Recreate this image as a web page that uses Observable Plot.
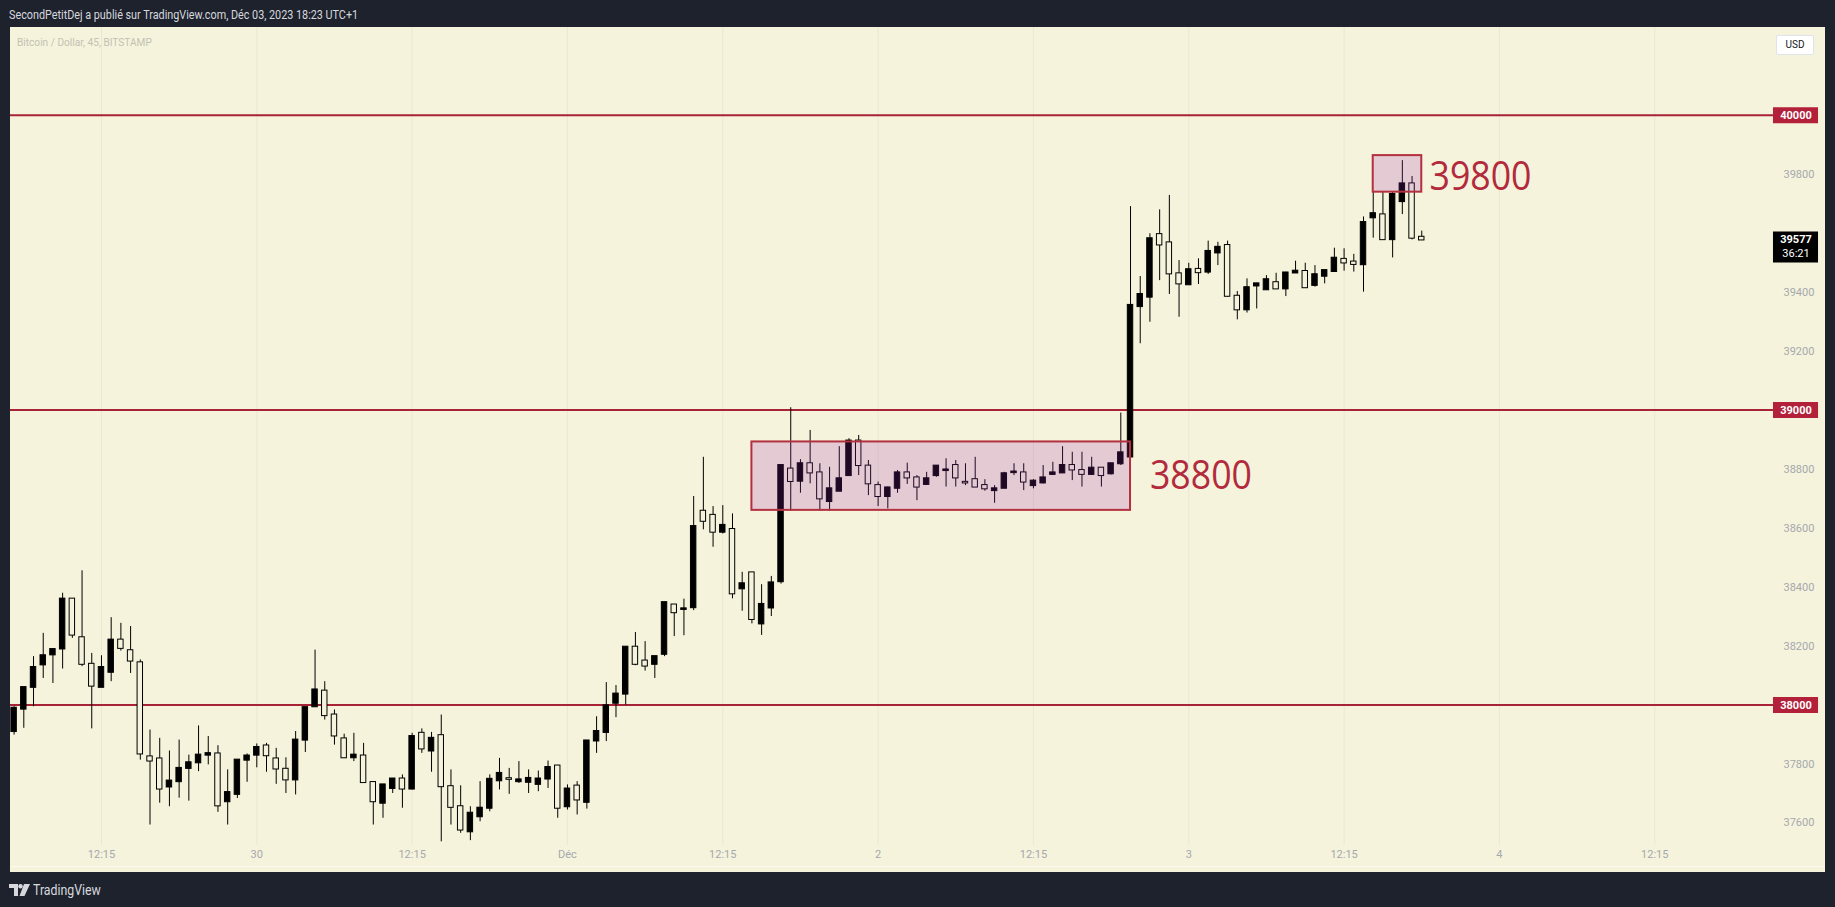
<!DOCTYPE html>
<html>
<head>
<meta charset="utf-8">
<script src="https://cdn.jsdelivr.net/npm/d3@7"></script>
<script src="https://cdn.jsdelivr.net/npm/@observablehq/plot@0.6"></script>
<style>
  html, body { margin: 0; padding: 0; }
  body { background: #1e222d; width: 1835px; height: 907px; overflow: hidden; position: relative; font-family: Roboto, "Liberation Sans", sans-serif; }
  #title { position: absolute; left: 9px; top: 8px; color: #d6d8de; font-size: 12px; line-height: 14px; white-space: nowrap; transform-origin: 0 0; transform: scaleX(0.9); }
  #pane { position: absolute; left: 10px; top: 27px; width: 1815px; height: 845px; background: #f5f3dc; }
  #chart { position: absolute; left: 10px; top: 27px; }
  #sym { position: absolute; left: 17px; top: 36px; color: #c3c2b2; font-size: 11px; line-height: 13px; white-space: nowrap; transform-origin: 0 0; transform: scaleX(0.92); }
  #usd { position: absolute; left: 1776px; top: 35px; width: 36px; height: 18px; background: #ffffff; border: 1px solid #e0e3eb; border-radius: 2px; color: #131722; font-size: 10px; line-height: 18px; text-align: center; }
  #footer { position: absolute; left: 9px; top: 882px; height: 16px; display: flex; align-items: center; color: #d6d8de; }
  #footer span { font-size: 14px; margin-left: 3px; display: inline-block; transform-origin: 0 50%; transform: scaleX(0.88); }
  #bline { position: absolute; left: 10px; top: 866px; width: 1815px; height: 1px; background: #fbfaf0; }
</style>
</head>
<body>
<div id="title">SecondPetitDej a publié sur TradingView.com, Déc 03, 2023 18:23 UTC+1</div>
<div id="pane"></div>
<div id="bline"></div>
<div id="chart"></div>
<div id="sym">Bitcoin / Dollar, 45, BITSTAMP</div>
<div id="usd">USD</div>
<div id="footer">
  <svg width="21" height="12" viewBox="0 0 21 12"><path d="M0 0h9v12h-4v-8h-5z" fill="#d6d8de"/><circle cx="11.5" cy="2.2" r="2.2" fill="#d6d8de"/><path d="M15 0h6l-5.5 12h-5z" fill="#d6d8de"/></svg>
  <span>TradingView</span>
</div>
<script>
// ---- Data: BTC/USD 45-minute candles (Bitstamp) ----
const open = [37910,37986,38060,38136,38170,38190,38359,38228,38138,38060,38111,38220,38184,38143,37824,37817,37722,37740,37785,37804,
  37830,37834,37672,37697,37813,37830,37861,37817,37782,37746,37881,37994,38047,37966,37885,37821,37827,37737,37667,37717,
  37749,37715,37904,37844,37896,37723,37655,37570,37621,37650,37743,37750,37740,37738,37731,37749,37793,37655,37725,37670,
  37878,37907,38006,38037,38196,38149,38138,38172,38339,38324,38330,38657,38643,38586,38595,38394,38448,38275,38329,38418,
  38800,38759,38818,38787,38690,38725,38778,38895,38810,38744,38707,38735,38787,38770,38748,38778,38795,38812,38755,38764,
  38744,38727,38735,38788,38787,38744,38753,38782,38787,38812,38795,38782,38803,38784,38818,38841,39351,39383,39595,39567,
  39462,39425,39477,39468,39533,39558,39386,39340,39421,39408,39432,39411,39465,39470,39423,39454,39470,39511,39502,39493,
  39652,39662,39578,39707,39767,39586];
const high = [37994,38059,38164,38243,38188,38379,38359,38455,38175,38167,38296,38277,38266,38153,37915,37887,37844,37881,37830,37929,
  37893,37862,37780,37813,37834,37868,37870,37853,37821,37910,37991,38186,38079,37983,37901,37904,37870,37737,37729,37749,
  37763,37904,37919,37907,37966,37780,37726,37655,37740,37763,37819,37785,37808,37780,37776,37810,37793,37729,37740,37878,
  37960,38076,38066,38196,38246,38215,38164,38347,38339,38359,38707,38840,38673,38676,38648,38450,38448,38408,38436,38812,
  39008,38832,38931,38818,38806,38876,38903,38914,38829,38756,38739,38795,38820,38778,38789,38810,38835,38829,38818,38840,
  38764,38744,38789,38818,38818,38764,38812,38823,38876,38857,38857,38840,38803,38818,38990,39690,39453,39598,39679,39728,
  39507,39498,39513,39573,39569,39573,39402,39445,39430,39456,39464,39465,39505,39498,39490,39473,39549,39547,39528,39655,
  39739,39739,39739,39846,39792,39607];
const low = [37898,37921,37994,38090,38073,38122,38226,38130,37919,38060,38079,38183,38107,37813,37593,37667,37655,37684,37674,37774,
  37797,37636,37593,37683,37738,37787,37772,37731,37700,37695,37839,37994,37949,37864,37819,37808,37737,37593,37616,37700,
  37650,37712,37836,37772,37536,37593,37565,37540,37604,37638,37712,37697,37734,37700,37706,37717,37616,37644,37627,37647,
  37836,37876,37957,38000,38133,38115,38090,38164,38232,38235,38320,38594,38535,38580,38360,38318,38275,38236,38300,38410,
  38657,38718,38750,38657,38657,38725,38778,38778,38710,38673,38665,38718,38748,38693,38746,38772,38739,38739,38744,38739,
  38725,38684,38735,38778,38727,38733,38750,38778,38787,38761,38739,38778,38739,38780,38812,38835,39225,39298,39439,39392,
  39315,39423,39426,39460,39490,39383,39306,39329,39343,39406,39411,39385,39465,39415,39417,39428,39470,39471,39468,39400,
  39583,39578,39516,39663,39577,39577];
const close = [37989,38059,38127,38167,38188,38359,38237,38138,38064,38127,38220,38192,38149,37834,37810,37715,37742,37785,37804,37830,
  37835,37658,37703,37813,37827,37856,37828,37783,37746,37881,37991,38051,37964,37895,37821,37830,37737,37672,37729,37749,
  37715,37893,37851,37887,37723,37653,37576,37633,37650,37748,37768,37748,37746,37751,37749,37788,37650,37715,37678,37878,
  37910,37997,38037,38196,38138,38132,38164,38347,38313,38326,38605,38623,38586,38609,38377,38411,38290,38341,38414,38812,
  38758,38818,38787,38699,38733,38767,38895,38812,38750,38707,38736,38787,38770,38739,38767,38810,38797,38770,38753,38739,
  38733,38733,38784,38790,38756,38759,38770,38787,38812,38797,38782,38803,38778,38818,38855,39355,39392,39581,39560,39462,
  39428,39476,39466,39538,39552,39386,39340,39415,39428,39442,39411,39465,39471,39415,39459,39473,39515,39499,39494,39636,
  39666,39578,39731,39767,39583,39577];

// time axis (bar index of each label; one day = 32 bars of 45 min)
const timeTickIndex = [9, 25, 41, 57, 73, 89, 105, 121, 137, 153, 169];
const timeTickLabels = ["12:15", "30", "12:15", "Déc", "12:15", "2", "12:15", "3", "12:15", "4", "12:15"];

// price axis (39600 is hidden behind the last-price label)
const priceTicks = [37600, 37800, 38000, 38200, 38400, 38600, 38800, 39000, 39200, 39400, 39800, 40000];
const levelPrices = [38000, 39000, 40000];

// annotated zones
const zoneStart = [76, 140];
const zoneEnd = [115, 145];
const zoneLow = [38660, 39739];
const zoneHigh = [38892, 39863];
const zoneLabel = ["38800", "39800"];
const zoneLabelIndex = [117, 145.8];
const zoneLabelPrice = [38733, 39747];

const lastPrice = 39577;
const countdown = "36:21";

// ---- Build ----
const CREAM = "#f5f3dc";
const RED = "#a82335";
const candles = open.map((o, i) => ({i, o, h: high[i], l: low[i], c: close[i]}));
const up = candles.filter(d => d.c >= d.o);
const down = candles.filter(d => d.c < d.o);
const zones = zoneStart.map((_, k) => k);

const xDomain = [0, 181.23];
const xMax = xDomain[1];
const labelW = 4.64;     // width of the price-scale label boxes, in bars
const half = 0.28;       // half body width, in bars

const chart = Plot.plot({
  width: 1815,
  height: 845,
  marginLeft: 3.6,
  marginRight: 52.02,
  marginTop: 28.72,
  marginBottom: 20.05,
  style: {background: "transparent", fontFamily: "Roboto, 'Liberation Sans', sans-serif", overflow: "visible"},
  x: {type: "linear", domain: xDomain, axis: null},
  y: {type: "linear", domain: [37500, 40200], axis: null},
  marks: [
    // vertical grid
    Plot.ruleX(timeTickIndex, {x: d => d, stroke: "#ebe8d1", strokeWidth: 1, insetTop: -28.72, insetBottom: 7}),
    // horizontal levels
    Plot.ruleY(levelPrices, {y: d => d, stroke: RED, strokeWidth: 2, insetLeft: -3.6}),
    // wicks
    Plot.ruleX(candles, {x: "i", y1: "l", y2: "h", stroke: "#000", strokeWidth: 1}),
    // bodies
    Plot.rect(down, {x1: d => d.i - half, x2: d => d.i + half, y1: "o", y2: "c", fill: CREAM, stroke: "#000", strokeWidth: 1, insetTop: -0.5, insetBottom: -0.5}),
    Plot.rect(up, {x1: d => d.i - half, x2: d => d.i + half, y1: "o", y2: "c", fill: "#000", stroke: "#000", strokeWidth: 1, insetTop: -0.5, insetBottom: -0.5}),
    // zones
    Plot.rect(zones, {x1: k => zoneStart[k], x2: k => zoneEnd[k], y1: k => zoneLow[k], y2: k => zoneHigh[k],
      fill: "rgb(156,39,176)", fillOpacity: 0.2, stroke: "#b3303f", strokeWidth: 2}),
    Plot.text(zones, {x: k => zoneLabelIndex[k], y: k => zoneLabelPrice[k], text: k => zoneLabel[k],
      textAnchor: "start", lineAnchor: "bottom", fontSize: 41, fill: "#b22a3c", fontFamily: "'Open Sans', sans-serif"}),
    // price scale labels
    Plot.text(priceTicks, {y: d => d, text: d => String(d), frameAnchor: "right", dx: 10, textAnchor: "start", fill: "#a6a8ae", fontSize: 11}),
    // level labels
    Plot.ruleY(levelPrices, {y: d => d, x1: xMax, x2: xMax + labelW, stroke: "#b2203a", strokeWidth: 16}),
    Plot.text(levelPrices, {y: d => d, x: xMax + labelW / 2, text: d => String(d), fill: "#ffffff", fontSize: 11, fontWeight: "bold"}),
    // last price label
    Plot.ruleY([lastPrice], {y: d => d, x1: xMax, x2: xMax + labelW, stroke: "#000", strokeWidth: 31, dy: 7}),
    Plot.text([lastPrice], {y: d => d, x: xMax + labelW / 2, text: d => String(d), fill: "#ffffff", fontSize: 11, fontWeight: "bold"}),
    Plot.text([lastPrice], {y: d => d, x: xMax + labelW / 2, text: () => countdown, fill: "#ffffff", fontSize: 11, dy: 14}),
    // time axis labels
    Plot.text(timeTickIndex, {x: d => d, text: (d, i) => timeTickLabels[i], frameAnchor: "bottom", dy: 6, fill: "#a6a8ae", fontSize: 11})
  ]
});

// the reference's annotation lettering is narrow: fit each label to its measured width
chart.querySelectorAll("text").forEach(t => {
  if (t.getAttribute("font-size") === "41" || (t.parentNode && t.parentNode.getAttribute("font-size") === "41")) {
    t.setAttribute("textLength", "102");
    t.setAttribute("lengthAdjust", "spacingAndGlyphs");
  }
});

document.getElementById("chart").appendChild(chart);
</script>
</body>
</html>
